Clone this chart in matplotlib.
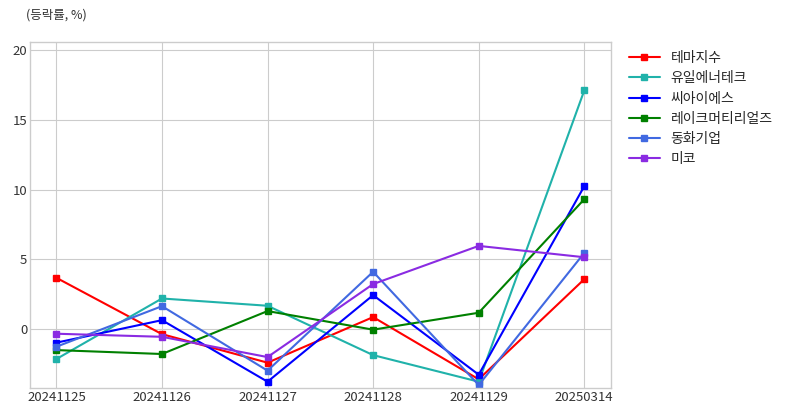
import matplotlib
matplotlib.use("Agg")
from matplotlib import pyplot as plt

dates = ["20241125", "20241126", "20241127", "20241128", "20241129", "20250314"]
names = ["테마지수", "유일에너테크", "씨아이에스", "레이크머티리얼즈", "동화기업", "미코"]
colors = ["red", "lightseagreen", "blue", "green", "royalblue", "blueviolet"]

theme = [3.69, -0.34, -2.38, 0.88, -3.57, 3.59]
yuil = [-2.12, 2.21, 1.69, -1.84, -3.74, 17.09]
cis = [-0.95, 0.66, -3.74, 2.45, -3.24, 10.24]
lake = [-1.48, -1.76, 1.31, -0.02, 1.19, 9.31]
dongwha = [-1.24, 1.66, -2.95, 4.12, -3.98, 5.47]
mico = [-0.31, -0.53, -1.98, 3.24, 5.97, 5.16]
series = [theme, yuil, cis, lake, dongwha, mico]

plt.style.use("seaborn-v0_8-whitegrid")
plt.rcParams["font.family"] = ["Noto Sans CJK KR", "DejaVu Sans"]

fig = plt.figure(figsize=(7.89, 4.16), dpi=100)
ax = fig.add_axes([0.038, 0.067, 0.736, 0.832])

x = list(range(len(dates)))
for vals, name, c in zip(series, names, colors):
    ax.plot(x, vals, marker="s", markersize=4, linewidth=1.5, color=c, label=name)

ax.set_xticks(x)
ax.set_xticklabels(dates)
ax.set_xlim(-0.25, 5.25)
ax.set_ylim(-4.2, 20.55)
ax.set_yticks([0, 5, 10, 15, 20])
ax.tick_params(labelsize=9.5, colors="#333333", pad=2)
for s in ax.spines.values():
    s.set_visible(True)
    s.set_color("#cccccc")

ax.legend(loc="upper left", bbox_to_anchor=(1.01, 1.01), frameon=False,
          fontsize=10, handlelength=2.2, labelspacing=0.45)
fig.text(0.033, 0.955, "(등락률, %)", fontsize=9, color="#333333")

fig.savefig("out.png", dpi=100)
